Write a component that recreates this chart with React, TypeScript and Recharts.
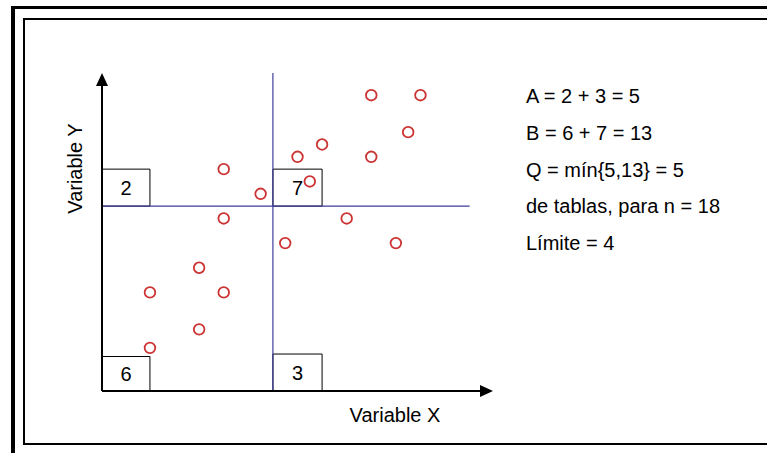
import React from "react";
import {
  ScatterChart,
  Scatter,
  XAxis,
  YAxis,
  ReferenceLine,
  ReferenceArea,
  ReferenceDot,
} from "recharts";

const xValues = [19, 23, 22, 15, 13, 19, 7, 14, 10, 7, 17, 12, 21, 5, 1, 7, 5, 1];
const yValues = [21, 21, 18, 17, 16, 16, 15, 14, 13, 11, 11, 9, 9, 7, 5, 5, 2, 0.5];

const medianX = 11;
const medianY = 12;

// counts per quadrant: upper-left, upper-right, lower-left, lower-right
const quadrantCounts = [2, 7, 6, 3];

const notes = [
  "A = 2 + 3 = 5",
  "B = 6 + 7 = 13",
  "Q = mín{5,13} = 5",
  "de tablas, para n = 18",
  "Límite = 4",
];

const xTitle = "Variable X";
const yTitle = "Variable Y";

const points = xValues.map((x, i) => ({ x, y: yValues[i] }));

const X_MIN = -2.9;
const X_MAX = 28.9;
const Y_MIN = -3;
const Y_MAX = 22.8;

const FONT = "'Liberation Sans', Arial, sans-serif";
const RED = "#CC3333";
const BLUE = "#3C3C9C";

const Ring = (props: any) => (
  <circle
    cx={props.cx}
    cy={props.cy}
    r={5.3}
    fill="none"
    stroke={RED}
    strokeWidth={1.8}
  />
);

const ArrowRight = (props: any) => (
  <path
    d={`M${props.cx},${props.cy} l-13,-6 l0,12 z`}
    fill="#000"
  />
);

const ArrowUp = (props: any) => (
  <path
    d={`M${props.cx},${props.cy} l-6,13 l12,0 z`}
    fill="#000"
  />
);

const boxLabel = (value: number) => ({
  value,
  position: "center" as const,
  fill: "#000",
  fontSize: 20,
  fontFamily: FONT,
});

export default function App() {
  return (
    <div
      style={{
        position: "absolute",
        left: 0,
        top: 0,
        width: 767,
        height: 453,
        overflow: "hidden",
        background: "#fff",
      }}
    >
      <div style={{ position: "absolute", left: 0, top: 0 }}>
        <ScatterChart
          width={767}
          height={453}
          margin={{ top: 73, right: 274, bottom: 62, left: 102 }}
        >
          <XAxis
            type="number"
            dataKey="x"
            domain={[X_MIN, X_MAX]}
            allowDataOverflow
            hide
          />
          <YAxis
            type="number"
            dataKey="y"
            domain={[Y_MIN, Y_MAX]}
            allowDataOverflow
            hide
          />

          <ReferenceLine
            segment={[
              { x: medianX, y: Y_MIN },
              { x: medianX, y: Y_MAX },
            ]}
            stroke={BLUE}
            strokeWidth={1.2}
            ifOverflow="visible"
          />
          <ReferenceLine
            segment={[
              { x: X_MIN, y: medianY },
              { x: 27, y: medianY },
            ]}
            stroke={BLUE}
            strokeWidth={1.2}
            ifOverflow="visible"
          />

          <ReferenceArea
            x1={X_MIN}
            x2={1}
            y1={medianY}
            y2={15}
            fill="#fff"
            fillOpacity={1}
            stroke="#000"
            strokeWidth={1}
            ifOverflow="visible"
            label={boxLabel(quadrantCounts[0])}
          />
          <ReferenceArea
            x1={medianX}
            x2={15}
            y1={medianY}
            y2={15}
            fill="#fff"
            fillOpacity={1}
            stroke="#000"
            strokeWidth={1}
            ifOverflow="visible"
            label={boxLabel(quadrantCounts[1])}
          />
          <ReferenceArea
            x1={X_MIN}
            x2={1}
            y1={Y_MIN}
            y2={-0.2}
            fill="#fff"
            fillOpacity={1}
            stroke="#000"
            strokeWidth={1}
            ifOverflow="visible"
            label={boxLabel(quadrantCounts[2])}
          />
          <ReferenceArea
            x1={medianX}
            x2={15}
            y1={Y_MIN}
            y2={0}
            fill="#fff"
            fillOpacity={1}
            stroke="#000"
            strokeWidth={1}
            ifOverflow="visible"
            label={boxLabel(quadrantCounts[3])}
          />

          <ReferenceLine
            segment={[
              { x: X_MIN, y: Y_MIN },
              { x: 28, y: Y_MIN },
            ]}
            stroke="#000"
            strokeWidth={2}
            ifOverflow="visible"
          />
          <ReferenceLine
            segment={[
              { x: X_MIN, y: Y_MIN },
              { x: X_MIN, y: 22 },
            ]}
            stroke="#000"
            strokeWidth={2}
            ifOverflow="visible"
          />
          <ReferenceDot
            x={X_MAX}
            y={Y_MIN}
            ifOverflow="visible"
            shape={ArrowRight}
          />
          <ReferenceDot
            x={X_MIN}
            y={Y_MAX}
            ifOverflow="visible"
            shape={ArrowUp}
          />

          <Scatter data={points} shape={Ring} isAnimationActive={false} />
        </ScatterChart>
      </div>

      <svg
        width={767}
        height={453}
        style={{ position: "absolute", left: 0, top: 0, pointerEvents: "none" }}
        fontFamily={FONT}
        fontSize={20}
      >
        {/* outer frame */}
        <rect x={11} y={6} width={4} height={447} fill="#000" />
        <rect x={11} y={6} width={756} height={3} fill="#000" />
        {/* inner frame */}
        <rect x={23} y={18} width={2} height={427} fill="#000" />
        <rect x={23} y={18} width={744} height={2} fill="#000" />
        <rect x={23} y={443} width={744} height={2} fill="#000" />

        <text x={395} y={422} textAnchor="middle" fill="#000">
          {xTitle}
        </text>
        <text
          x={82}
          y={168.5}
          textAnchor="middle"
          fill="#000"
          transform="rotate(-90 82 168.5)"
        >
          {yTitle}
        </text>

        {notes.map((t, i) => (
          <text key={t} x={526} y={103.3 + i * 36.7} fill="#000">
            {t}
          </text>
        ))}
      </svg>
    </div>
  );
}
